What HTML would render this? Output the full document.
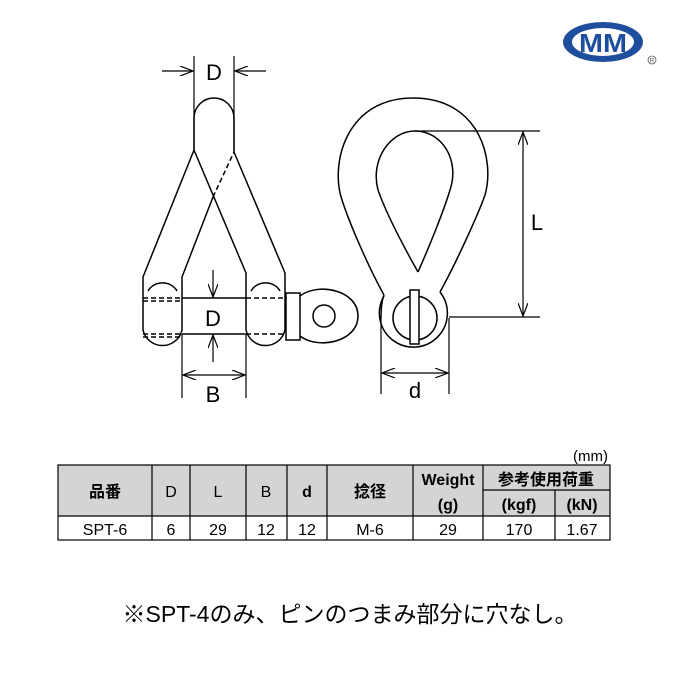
<!DOCTYPE html>
<html><head><meta charset="utf-8"><style>
body{margin:0;background:#fff;width:680px;height:680px;overflow:hidden}
</style></head><body>
<svg width="680" height="680" viewBox="0 0 680 680" xmlns="http://www.w3.org/2000/svg" font-family="Liberation Sans, Noto Sans CJK JP, sans-serif">
<defs>
<marker id="a" markerWidth="14" markerHeight="10" refX="13" refY="5" orient="auto" markerUnits="userSpaceOnUse"><path d="M0,0 L13,5 L0,10" fill="none" stroke="#000" stroke-width="1.2"/></marker>
</defs>
<g fill="none" stroke="#000" stroke-width="1.5">
<path d="M194,150 L194,118 A20,20 0 0 1 234,118 L234,152"/>
<path d="M194,150 L143,277 L143,330 A20,20 0 0 0 182,330 L182,277 L213,197"/>
<path d="M213,197 L234,152" stroke-dasharray="5,3"/>
<path d="M194,150 L246,273 L246,330 A20,20 0 0 0 285,330 L285,273 L234,152"/>
<path d="M148,291 A16,14 0 0 1 177,291"/>
<path d="M251,291 A16,14 0 0 1 280,291"/>
<line x1="182" y1="298" x2="246" y2="298"/><line x1="182" y1="334" x2="246" y2="334"/>
<g stroke-dasharray="5,3"><line x1="143" y1="298" x2="182" y2="298"/><line x1="143" y1="301" x2="182" y2="301"/><line x1="143" y1="334" x2="182" y2="334"/><line x1="143" y1="337" x2="182" y2="337"/><line x1="246" y1="298" x2="286" y2="298"/><line x1="246" y1="334" x2="286" y2="334"/></g>
<rect x="286" y="293" width="14" height="47"/>
<path d="M300,296 C318,282 358,290 358,316 C358,342 318,350 300,336"/>
<circle cx="324" cy="316" r="11"/>
<line x1="194" y1="56" x2="194" y2="150" stroke-width="1.2"/><line x1="234" y1="56" x2="234" y2="150" stroke-width="1.2"/>
<line x1="162" y1="71" x2="193" y2="71" stroke-width="1.2" marker-end="url(#a)"/>
<line x1="266" y1="71" x2="235" y2="71" stroke-width="1.2" marker-end="url(#a)"/>
<line x1="213" y1="270" x2="213" y2="297" stroke-width="1.2" marker-end="url(#a)"/>
<line x1="213" y1="362" x2="213" y2="335" stroke-width="1.2" marker-end="url(#a)"/>
<line x1="182" y1="334" x2="182" y2="398" stroke-width="1.2"/><line x1="246" y1="334" x2="246" y2="398" stroke-width="1.2"/>
<line x1="214" y1="375" x2="183" y2="375" stroke-width="1.2" marker-end="url(#a)"/>
<line x1="214" y1="375" x2="245" y2="375" stroke-width="1.2" marker-end="url(#a)"/>
<path d="M384,295 C370,270 350,225 342,200 C330,165 345,98 413,98 C480,98 495,160 485,195 C478,215 455,265 440,292"/>
<path d="M418,272 C400,240 385,210 378,190 C370,160 390,131 415,131 C442,131 460,160 450,190 C444,210 430,245 418,272"/>
<path d="M384,295 C382,300 381,306 381,318"/>
<path d="M384,296 A34,34 0 1 0 440,292"/>
<circle cx="415" cy="318" r="22"/>
<rect x="410" y="290" width="9" height="54" fill="#fff"/>
<line x1="415" y1="131" x2="540" y2="131" stroke-width="1.2"/>
<line x1="449" y1="317" x2="540" y2="317" stroke-width="1.2"/>
<line x1="523" y1="224" x2="523" y2="132" stroke-width="1.2" marker-end="url(#a)"/>
<line x1="523" y1="224" x2="523" y2="316" stroke-width="1.2" marker-end="url(#a)"/>
<line x1="381" y1="318" x2="381" y2="394" stroke-width="1.2"/><line x1="449" y1="318" x2="449" y2="394" stroke-width="1.2"/>
<line x1="415" y1="373" x2="382" y2="373" stroke-width="1.2" marker-end="url(#a)"/>
<line x1="415" y1="373" x2="448" y2="373" stroke-width="1.2" marker-end="url(#a)"/>
</g>
<g font-size="22" text-anchor="middle" fill="#000">
<text x="214" y="80">D</text>
<text x="213" y="326">D</text>
<text x="213" y="402">B</text>
<text x="537" y="230">L</text>
<text x="415" y="398">d</text>
</g>
<ellipse cx="603" cy="42" rx="40" ry="20" fill="#1f4e9e"/>
<ellipse cx="603" cy="42" rx="31" ry="14" fill="#fff"/>
<text x="603" y="52" font-size="26" font-weight="bold" fill="#1f4e9e" text-anchor="middle" textLength="48" lengthAdjust="spacingAndGlyphs">MM</text>
<circle cx="652" cy="60" r="4" fill="none" stroke="#555" stroke-width="0.8"/>
<text x="652" y="62.5" font-size="6" text-anchor="middle" fill="#555">R</text>
<text x="608" y="461" font-size="15" text-anchor="end" fill="#000">(mm)</text>
<rect x="58" y="465" width="552" height="51" fill="#d4d4d4"/>
<g stroke="#000" stroke-width="1.2" fill="none">
<rect x="58" y="465" width="552" height="75"/>
<line x1="58" y1="516" x2="610" y2="516"/>
<line x1="483" y1="490" x2="610" y2="490"/>
<line x1="152" y1="465" x2="152" y2="540"/><line x1="190" y1="465" x2="190" y2="540"/>
<line x1="246" y1="465" x2="246" y2="540"/><line x1="287" y1="465" x2="287" y2="540"/>
<line x1="327" y1="465" x2="327" y2="540"/><line x1="413" y1="465" x2="413" y2="540"/>
<line x1="483" y1="465" x2="483" y2="540"/><line x1="555" y1="490" x2="555" y2="540"/>
</g>
<g font-size="16" text-anchor="middle" fill="#000">
<text x="105" y="497" font-weight="bold">品番</text>
<text x="171" y="497">D</text><text x="218" y="497">L</text><text x="266" y="497">B</text>
<text x="307" y="497" font-weight="bold">d</text>
<text x="370" y="497" font-weight="bold">捻径</text>
<text x="448" y="485" font-weight="bold">Weight</text>
<text x="448" y="510" font-weight="bold">(g)</text>
<text x="546" y="485" font-weight="bold">参考使用荷重</text>
<text x="519" y="510" font-weight="bold">(kgf)</text>
<text x="582" y="510" font-weight="bold">(kN)</text>
<text x="105" y="535">SPT-6</text><text x="171" y="535">6</text><text x="218" y="535">29</text>
<text x="266" y="535">12</text><text x="307" y="535">12</text><text x="370" y="535">M-6</text>
<text x="448" y="535">29</text><text x="519" y="535">170</text><text x="582" y="535">1.67</text>
</g>
<text x="350" y="622" font-size="23" text-anchor="middle" fill="#000">※SPT-4のみ、ピンのつまみ部分に穴なし。</text>
</svg>
</body></html>
